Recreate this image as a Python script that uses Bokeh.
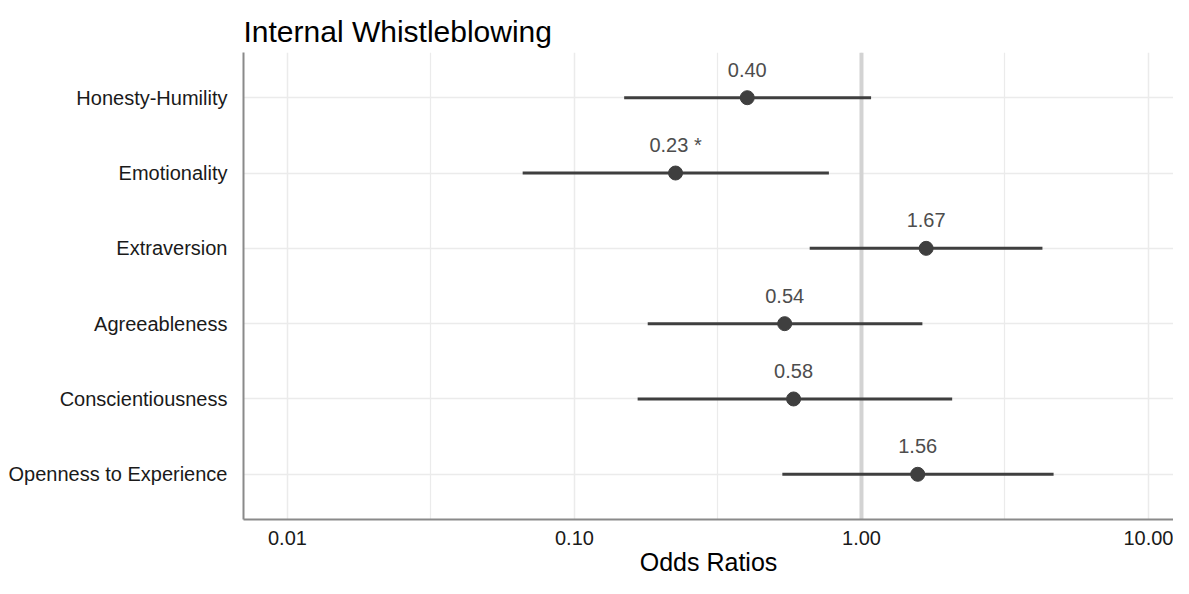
from bokeh.plotting import figure
from bokeh.models import ColumnDataSource, FixedTicker, Span, Range1d
from bokeh.embed import file_html
from bokeh.resources import INLINE
from bokeh.core.properties import value

categories = ["Honesty-Humility", "Emotionality", "Extraversion",
              "Agreeableness", "Conscientiousness", "Openness to Experience"]
odds = [0.40, 0.225, 1.68, 0.54, 0.58, 1.57]
lower = [0.149, 0.066, 0.66, 0.18, 0.166, 0.53]
upper = [1.08, 0.77, 4.27, 1.63, 2.07, 4.67]
labels = ["0.40", "0.23 *", "1.67", "0.54", "0.58", "1.56"]
x_ticks = [0.01, 0.1, 1.0, 10.0]
x_tick_labels = ["0.01", "0.10", "1.00", "10.00"]

n = len(categories)
ypos = [n - i for i in range(n)]

src = ColumnDataSource(dict(y=ypos, odds=odds, lo=lower, hi=upper, lab=labels))

FONT = "Liberation Sans"

p = figure(width=1173, height=578, x_axis_type="log",
           x_range=Range1d(0.00703, 12.22), y_range=Range1d(0.4, 6.6),
           output_backend="svg", toolbar_location=None,
           title="Internal Whistleblowing",
           min_border_left=243, min_border_right=0, min_border_top=52,
           min_border_bottom=50)
p.outline_line_color = None

p.title.text_font = FONT
p.title.text_font_size = "30px"
p.title.text_font_style = "normal"
p.title.text_color = "#000000"
p.title.offset = 0
p.title.standoff = 10

# axes
p.xaxis.ticker = FixedTicker(ticks=x_ticks, minor_ticks=[10**-1.5, 10**-0.5, 10**0.5])
p.xaxis.major_label_overrides = {t: l for t, l in zip(x_ticks, x_tick_labels)}
p.yaxis.ticker = FixedTicker(ticks=ypos)
p.yaxis.major_label_overrides = {y: c for y, c in zip(ypos, categories)}

for ax in (p.xaxis[0], p.yaxis[0]):
    ax.axis_line_color = "#8a8a8a"
    ax.axis_line_width = 2
    ax.major_tick_line_color = None
    ax.minor_tick_line_color = None
    ax.major_label_text_font = FONT
    ax.major_label_text_color = "#1a1a1a"

p.xaxis.major_label_text_font_size = "20px"
p.xaxis.major_label_standoff = 5
p.yaxis.major_label_text_font_size = "20px"
p.yaxis.major_label_standoff = 10
p.xaxis.axis_label = "Odds Ratios"
p.xaxis.axis_label_text_font = FONT
p.xaxis.axis_label_text_font_size = "25px"
p.xaxis.axis_label_text_font_style = "normal"
p.xaxis.axis_label_text_color = "#000000"
p.xaxis.axis_label_standoff = 0

p.xgrid.grid_line_color = "#ebebeb"
p.xgrid.grid_line_width = 1.5
p.xgrid.minor_grid_line_color = "#ebebeb"
p.xgrid.minor_grid_line_width = 1.2
p.ygrid.grid_line_color = "#ebebeb"
p.ygrid.grid_line_width = 1.5

p.add_layout(Span(location=1.0, dimension="height", line_color="#d3d3d3",
                  line_width=4, level="underlay"))

p.segment(x0="lo", x1="hi", y0="y", y1="y", source=src,
          line_color="#3f3f3f", line_width=3)
p.scatter(x="odds", y="y", source=src, size=14, fill_color="#3f3f3f",
          line_color="#3f3f3f")
p.text(x="odds", y="y", text="lab", source=src, text_align="center",
       text_baseline="middle", y_offset=-28, text_font=value(FONT),
       text_font_size="20px", text_color="#4d4d4d")

open("out.html", "w").write(file_html(p, INLINE))
